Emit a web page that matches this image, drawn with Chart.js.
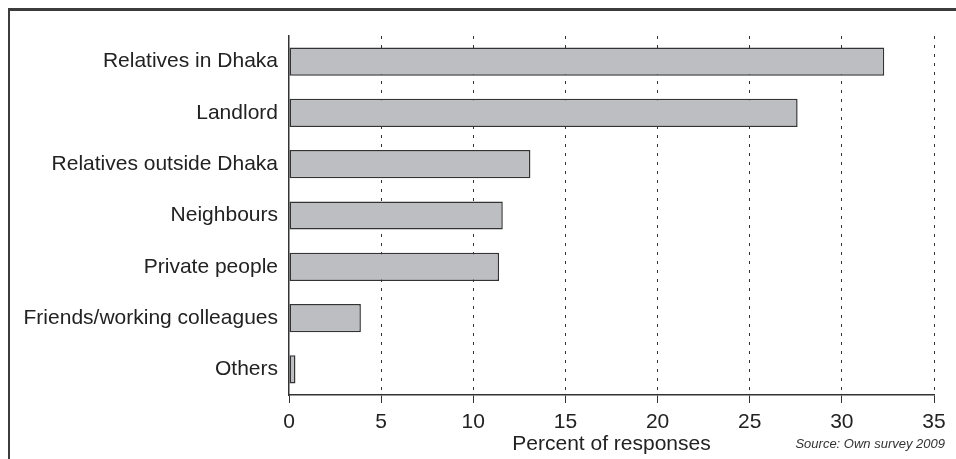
<!DOCTYPE html>
<html>
<head>
<meta charset="utf-8">
<script src="https://cdn.jsdelivr.net/npm/chart.js@4"></script>
<style>
  html, body { margin: 0; padding: 0; background: #fff; }
  #wrap { position: relative; width: 956px; height: 459px; overflow: hidden; }
  #frame {
    position: absolute; left: 8px; top: 8px; width: 1000px; height: 500px;
    border-top: 3px solid #3c3c3c; border-left: 2px solid #3c3c3c;
  }
  #grafico { position: absolute; left: 0; top: 0; }
  #fonte {
    position: absolute; right: 11px; top: 436px;
    font: italic 13px "Liberation Sans", Arial, sans-serif; color: #333;
  }
</style>
</head>
<body>
<div id="wrap">
  <div id="frame"></div>
  <canvas id="grafico" width="956" height="459"></canvas>
  <span id="fonte">Source: Own survey 2009</span>
</div>
<script>
// categorias e valores (percentagem de respostas)
const categorias = [
  "Relatives in Dhaka",
  "Landlord",
  "Relatives outside Dhaka",
  "Neighbours",
  "Private people",
  "Friends/working colleagues",
  "Others"
];
const valores = [32.3, 27.6, 13.1, 11.6, 11.4, 3.9, 0.35];
const ticksX = [0, 5, 10, 15, 20, 25, 30, 35];
const tituloX = "Percent of responses";

document.addEventListener("DOMContentLoaded", function () {
  const ctx = document.getElementById("grafico").getContext("2d");
  Chart.defaults.font.family = '"Liberation Sans", Arial, sans-serif';
  Chart.defaults.color = "#222";

  new Chart(ctx, {
    type: "bar",
    data: {
      labels: categorias,
      datasets: [{
        data: valores,
        backgroundColor: "#bdbec1",
        borderColor: "#333",
        borderWidth: 1.5,
        borderSkipped: false,
        categoryPercentage: 1,
        barPercentage: 0.55
      }]
    },
    options: {
      indexAxis: "y",
      responsive: false,
      animation: false,
      layout: { padding: { top: 36, right: 22, left: 0, bottom: 0 } },
      plugins: {
        legend: { display: false },
        tooltip: { enabled: false }
      },
      scales: {
        x: {
          min: 0,
          max: 35,
          afterBuildTicks: s => { s.ticks = ticksX.map(v => ({ value: v })); },
          afterFit: s => { s.height = 64; },
          ticks: { font: { size: 21 }, color: "#222", padding: 7, maxRotation: 0 },
          grid: {
            color: c => c.tick && c.tick.value === 0 ? "rgba(0,0,0,0)" : "#333",
            lineWidth: 1,
            tickLength: 8,
            tickColor: "#333",
            tickBorderDash: []
          },
          border: { display: true, color: "#333", width: 1.5, dash: [3, 6] },
          title: { display: true, text: tituloX, font: { size: 21 }, color: "#222", padding: { top: 0, bottom: 2 } }
        },
        y: {
          afterFit: s => { s.width = 289; },
          ticks: { font: { size: 21 }, color: "#222", padding: 11 },
          grid: { display: false, drawTicks: false },
          border: { display: true, color: "#333", width: 1.5 }
        }
      }
    }
  });
});
</script>
</body>
</html>
